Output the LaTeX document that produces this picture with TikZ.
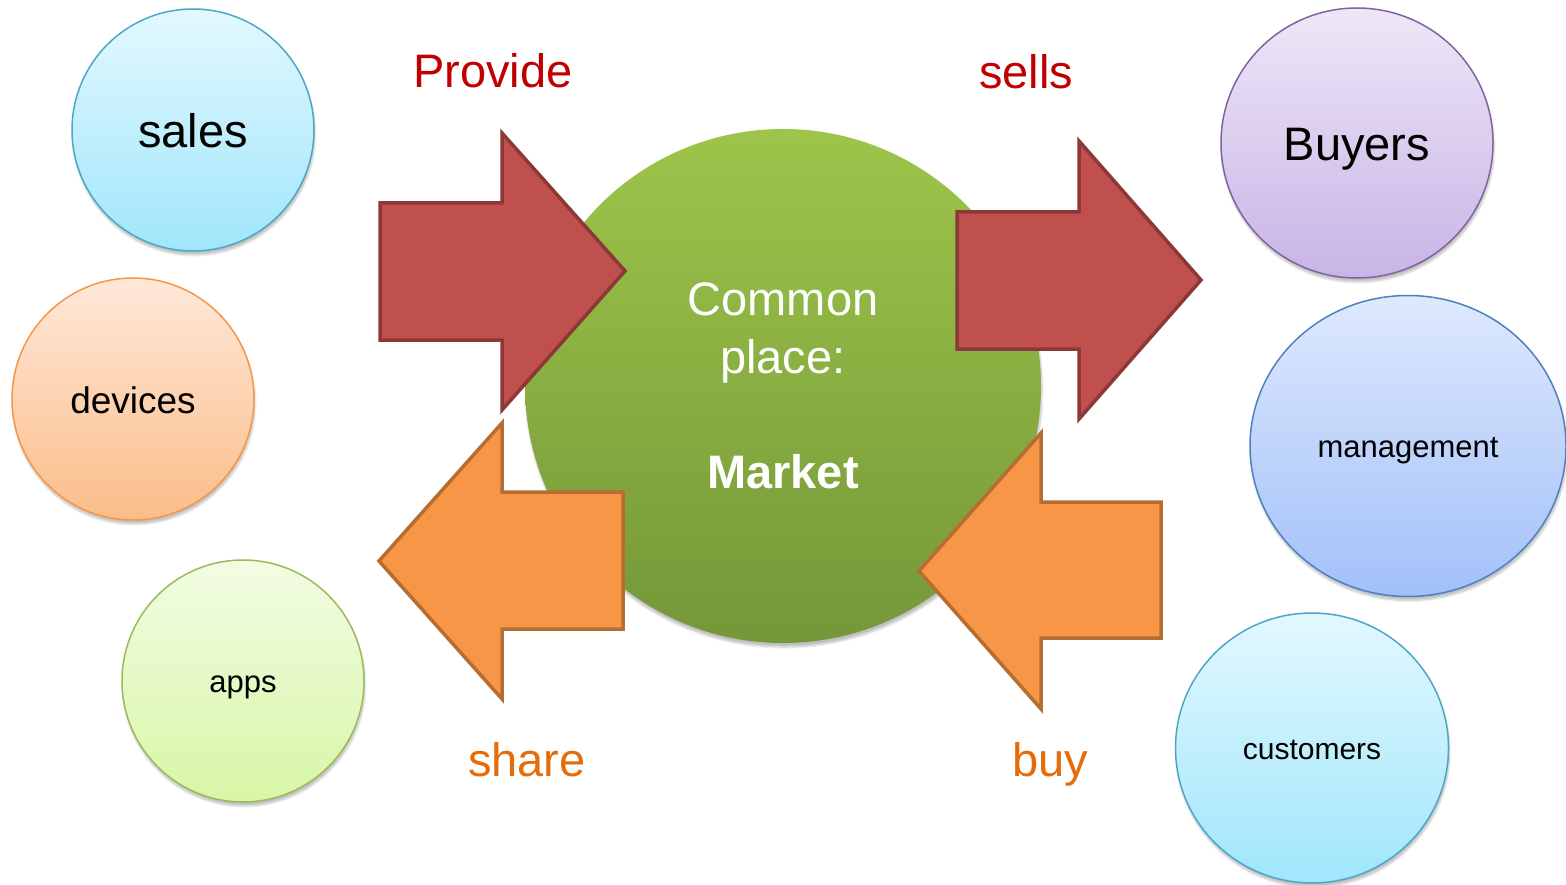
\documentclass[tikz,border=0pt]{standalone}
\usepackage{fontspec}
\setmainfont{Liberation Sans}
\usepackage{tikz}
\usetikzlibrary{shapes.geometric, shadows.blur}

\definecolor{cyantop}{RGB}{227,248,254}
\definecolor{cyanbot}{RGB}{160,230,251}
\definecolor{cyanline}{RGB}{75,168,196}
\definecolor{peachtop}{RGB}{254,232,217}
\definecolor{peachbot}{RGB}{251,189,137}
\definecolor{peachline}{RGB}{247,150,70}
\definecolor{limetop}{RGB}{242,252,228}
\definecolor{limebot}{RGB}{216,246,166}
\definecolor{limeline}{RGB}{155,187,89}
\definecolor{lilactop}{RGB}{238,231,247}
\definecolor{lilacbot}{RGB}{200,180,230}
\definecolor{lilacline}{RGB}{128,100,162}
\definecolor{skytop}{RGB}{222,233,253}
\definecolor{skybot}{RGB}{162,192,249}
\definecolor{skyline}{RGB}{79,129,189}
\definecolor{markettop}{RGB}{157,197,74}
\definecolor{marketbot}{RGB}{117,151,57}
\definecolor{arrowred}{RGB}{192,80,77}
\definecolor{arrowredline}{RGB}{140,56,54}
\definecolor{arroworange}{RGB}{247,150,70}
\definecolor{arroworangeline}{RGB}{182,109,49}
\definecolor{labelred}{RGB}{192,0,0}
\definecolor{labelorange}{RGB}{228,108,10}

\begin{document}
\begin{tikzpicture}[
	x=1pt, y=-1pt,
	bubble/.style={ellipse, draw, line width=1.5pt, inner sep=0pt, text=black, text depth=0pt, blur shadow={shadow xshift=1pt, shadow yshift=-4pt, shadow blur steps=6, shadow opacity=25}},
	pastelcyan/.style={draw=cyanline, top color=cyantop, bottom color=cyanbot},
	pastelpeach/.style={draw=peachline, top color=peachtop, bottom color=peachbot},
	pastellime/.style={draw=limeline, top color=limetop, bottom color=limebot},
	pastellilac/.style={draw=lilacline, top color=lilactop, bottom color=lilacbot},
	pastelsky/.style={draw=skyline, top color=skytop, bottom color=skybot},
	bigtext/.style={font=\fontsize{47}{57.5}\selectfont},
	bigname/.style={bigtext, text height=35pt},
	midname/.style={font=\fontsize{37}{44}\selectfont, text height=28pt},
	smallname/.style={font=\fontsize{31}{37}\selectfont, text height=23pt},
	blockarrow/.style={line width=3.5pt, line join=miter},
	redarrow/.style={blockarrow, fill=arrowred, draw=arrowredline},
	orangearrow/.style={blockarrow, fill=arroworange, draw=arroworangeline}
	]
	
	\useasboundingbox (0,0) rectangle (1566,885);
	
	% Nodes
	\node (sales) [bubble, pastelcyan, bigname, minimum width=242pt, minimum height=242pt] at (193,130) {sales};
	\node (devices) [bubble, pastelpeach, midname, minimum width=242pt, minimum height=242pt] at (133,399) {devices};
	\node (apps) [bubble, pastellime, smallname, minimum width=242pt, minimum height=242pt] at (243,681) {apps};
	\node (buyers) [bubble, pastellilac, bigname, minimum width=272pt, minimum height=270pt] at (1357,143) {Buyers};
	\node (management) [bubble, pastelsky, smallname, minimum width=316pt, minimum height=301pt] at (1408,446) {management};
	\node (customers) [bubble, pastelcyan, font=\fontsize{30}{36}\selectfont, text height=22.5pt, minimum width=273pt, minimum height=270pt] at (1312,748) {customers};
	\node (market) [ellipse, inner sep=0pt, top color=markettop, bottom color=marketbot, text=white, bigtext, align=center, minimum width=516pt, minimum height=514pt, blur shadow={shadow xshift=1pt, shadow yshift=-4pt, shadow blur steps=6, shadow opacity=25}] at (783,386) {Common\\place:\\[57.5pt]\textbf{Market}};
	
	% Arrows
	\draw[redarrow] (380,203) -- (502,203) -- (502,133) -- (625,271) -- (502,410) -- (502,340) -- (380,340) -- cycle;
	\draw[redarrow] (957,212) -- (1079,212) -- (1079,141) -- (1201,280) -- (1079,419) -- (1079,349) -- (957,349) -- cycle;
	\draw[orangearrow] (623,492) -- (502,492) -- (502,423) -- (379,561) -- (502,699) -- (502,629) -- (623,629) -- cycle;
	\draw[orangearrow] (1161,502) -- (1041,502) -- (1041,433) -- (919,571) -- (1041,709) -- (1041,638) -- (1161,638) -- cycle;
	
	% Labels
	\node (provide) [bigtext, text=labelred] at (493,71) {Provide};
	\node (sells) [bigtext, text=labelred] at (1026,72) {sells};
	\node (share) [bigtext, text=labelorange] at (527,760) {share};
	\node (buy) [bigtext, text=labelorange] at (1050,764) {buy};
	
\end{tikzpicture}
\end{document}
